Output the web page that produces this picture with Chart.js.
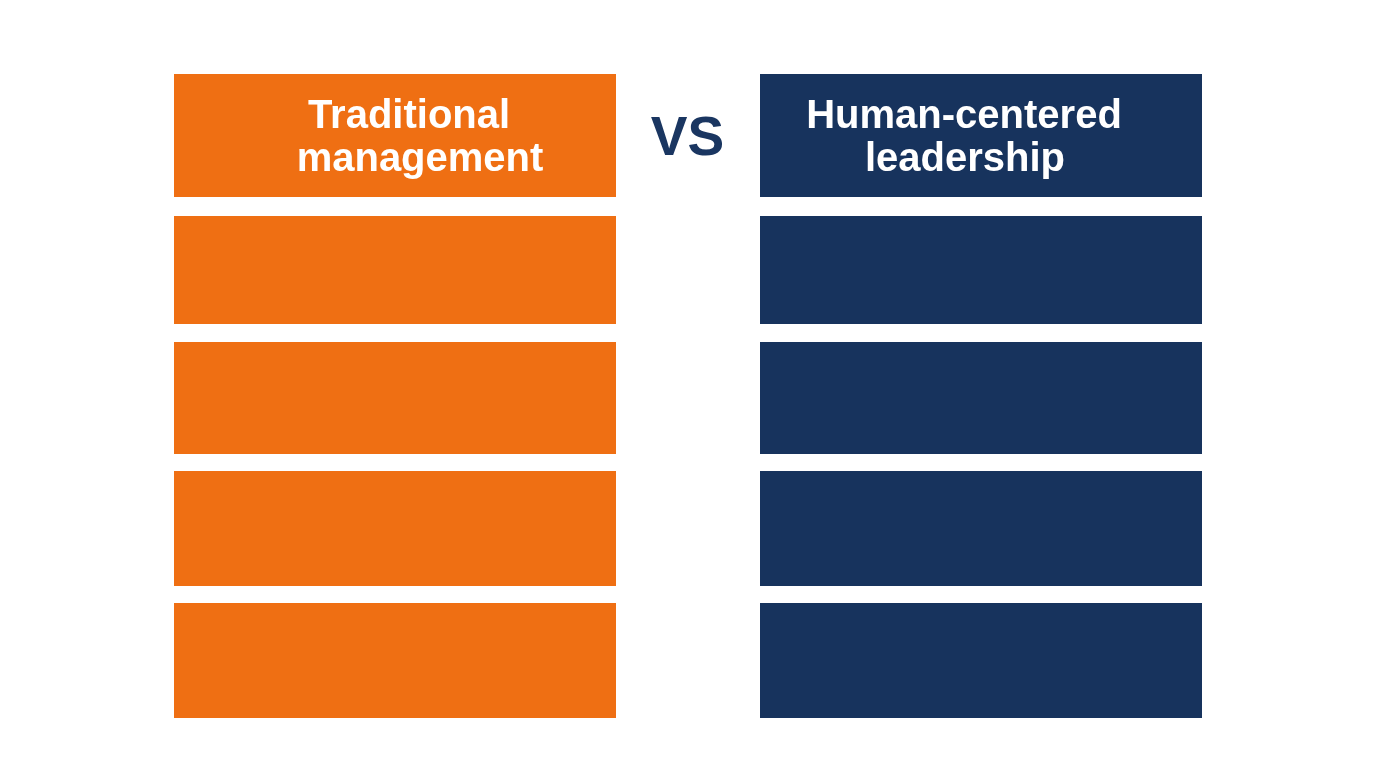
<!DOCTYPE html>
<html>
<head>
<meta charset="utf-8">
<script src="https://cdn.jsdelivr.net/npm/chart.js@4"></script>
<style>
  html, body { margin: 0; padding: 0; background: #ffffff; }
  #wrap { width: 1376px; height: 768px; position: relative; }
</style>
</head>
<body>
<div id="wrap"><canvas id="compare_chart"></canvas></div>
<script>
// columns of the comparison
var categories = ["Traditional management", "Human-centered leadership"];
var headerLines = [["Traditional", "management"], ["Human-centered", "leadership"]];
var columnColors = ["#EF6F13", "#17335D"];
// each row is a floating bar [start, end] on the vertical scale (0 = top)
var rowStart = [74, 216, 342, 471, 603];
var rowEnd = [197, 324, 454, 586, 718];
var vsLabel = "VS";

var datasets = [];
for (var r = 0; r < rowStart.length; r++) {
    datasets.push({
        label: "row " + (r + 1),
        data: categories.map(function () { return [rowStart[r], rowEnd[r]]; }),
        backgroundColor: columnColors,
        borderWidth: 0,
        categoryPercentage: 1,
        barPercentage: 442 / 586,
    });
}

var headerText = {
    id: "headerText",
    afterDatasetsDraw: function (chart) {
        var ctx = chart.ctx;
        var meta = chart.getDatasetMeta(0);
        // the header lines sit a little off the bar centre in the original
        var nudge = [[14, 25], [-17, -16]];
        ctx.save();
        ctx.fillStyle = "#ffffff";
        ctx.textAlign = "center";
        ctx.textBaseline = "alphabetic";
        ctx.font = "bold 40px 'Liberation Sans', Arial, sans-serif";
        meta.data.forEach(function (bar, i) {
            var mid = (bar.y + bar.base) / 2;
            var lines = headerLines[i];
            ctx.fillText(lines[0], bar.x + nudge[i][0], mid - 7.5);
            ctx.fillText(lines[1], bar.x + nudge[i][1], mid + 35.5);
        });
        var a = meta.data[0], b = meta.data[1];
        ctx.fillStyle = "#1A3661";
        ctx.font = "bold 55px 'Liberation Sans', Arial, sans-serif";
        ctx.fillText(vsLabel, (a.x + b.x) / 2 - 0.5, (a.y + a.base) / 2 + 19.5);
        ctx.restore();
    },
};

var chart = new Chart(document.getElementById("compare_chart"), {
    type: "bar",
    data: {
        labels: categories,
        datasets: datasets,
    },
    options: {
        responsive: true,
        maintainAspectRatio: false,
        animation: false,
        layout: {
            padding: { left: 102, right: 102, top: 0, bottom: 0 },
        },
        plugins: {
            legend: { display: false },
            tooltip: { enabled: false },
        },
        scales: {
            x: {
                display: false,
                stacked: true,
                offset: true,
            },
            y: {
                display: false,
                stacked: false,
                reverse: true,
                min: 0,
                max: 768,
            },
        },
    },
    plugins: [headerText],
});
</script>
</body>
</html>
